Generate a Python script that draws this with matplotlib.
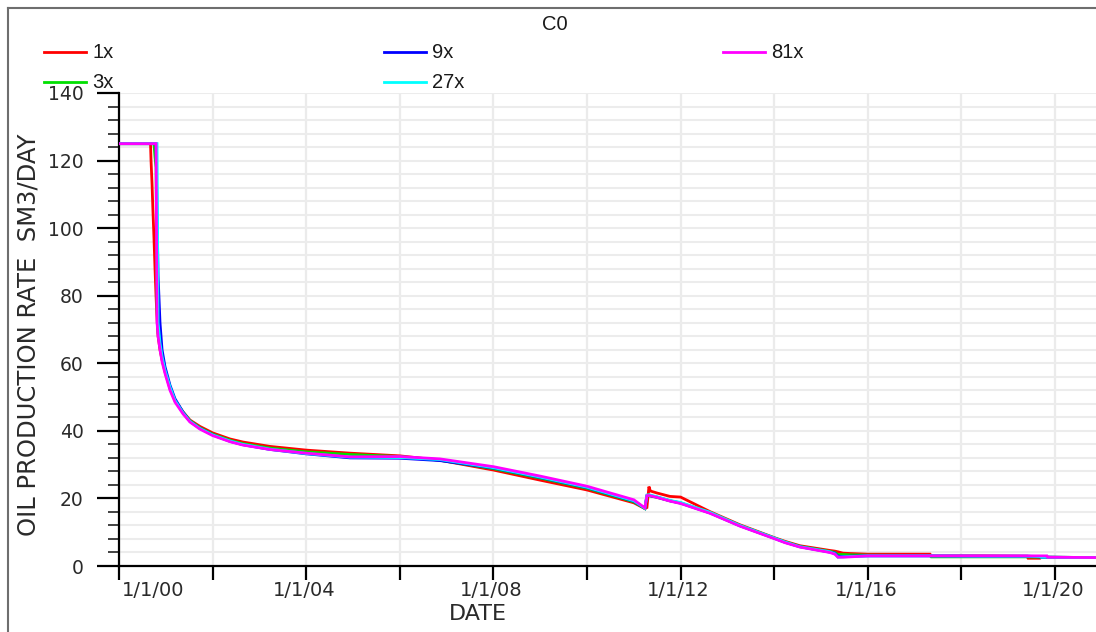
import datetime as dt

import matplotlib
matplotlib.use("Agg")
import matplotlib.pyplot as plt
import matplotlib.dates as mdates
from matplotlib.lines import Line2D
from matplotlib.ticker import MultipleLocator

# ---- data -----------------------------------------------------------------
dates = [
    "2000-01-01", "2000-09-03", "2000-09-07", "2000-09-15", "2000-09-22",
    "2000-09-30", "2000-10-08", "2000-10-16", "2000-10-24", "2000-11-01",
    "2000-11-16", "2000-12-02", "2000-12-25", "2001-02-02", "2001-03-13",
    "2001-05-15", "2001-07-08", "2001-09-24", "2002-01-01", "2002-05-16",
    "2002-08-25", "2003-03-23", "2004-01-01", "2004-12-08", "2006-01-01",
    "2006-11-10", "2008-01-01", "2009-01-01", "2010-01-01", "2011-01-01",
    "2011-03-28", "2011-04-13", "2011-04-29", "2011-05-10", "2011-07-01",
    "2011-10-10", "2012-01-01", "2012-08-17", "2013-04-08", "2014-01-01",
    "2014-03-26", "2014-07-20", "2015-03-11", "2015-04-19", "2015-05-13",
    "2015-06-21", "2015-08-14", "2016-01-01", "2017-05-01", "2017-05-10",
    "2018-06-17", "2019-05-27", "2019-06-05", "2019-09-06", "2019-09-15",
    "2019-10-30", "2019-11-05", "2020-11-16",
]

rate_1x = [
    125, 125, 120, 113, 105, 97, 88, 80, 73, 68,
    64, 61, 57.5, 52.5, 49, 45.6, 43.2, 41.3, 39.4, 37.6,
    36.7, 35.4, 34.3, 33.4, 32.6, 31.3, 28.4, 25.4, 22.5, 18.7,
    17.0, 17.3, 23.5, 22.2, 21.6, 20.6, 20.4, 16.1, 12.2, 8.4,
    7.3, 6.0, 4.6, 4.4, 4.2, 3.8, 3.7, 3.5, 3.5, 3.0,
    3.0, 2.9, 2.3, 2.3, 2.6, 2.6, 2.6, 2.5,
]
rate_3x = [
    125, 125, 125, 125, 125, 125, 121, 118, 76, 69,
    65, 61.5, 58, 53, 49, 45.5, 43.0, 40.9, 39.0, 37.2,
    36.2, 34.9, 33.8, 33.0, 32.4, 31.3, 28.8, 26.0, 23.0, 19.0,
    17.0, 20.6, 20.8, 20.7, 20.3, 19.3, 18.7, 15.8, 12.0, 8.3,
    7.1, 5.8, 4.3, 4.0, 3.4, 3.4, 3.3, 3.2, 3.1, 2.7,
    2.7, 2.7, 2.7, 2.6, 2.6, 2.6, 2.6, 2.5,
]
rate_9x = [
    125, 125, 125, 125, 125, 125, 125, 125, 104, 86,
    72, 64, 59, 53.5, 49.5, 45.5, 42.8, 40.7, 38.8, 36.9,
    35.9, 34.5, 33.2, 32.0, 31.9, 31.2, 29.0, 26.2, 23.2, 19.2,
    17.1, 20.8, 20.9, 20.8, 20.4, 19.3, 18.6, 15.7, 11.9, 8.2,
    7.0, 5.7, 4.1, 3.8, 2.9, 2.8, 2.9, 3.0, 3.0, 3.0,
    2.9, 2.9, 2.9, 2.7, 2.6, 2.6, 2.6, 2.5,
]
rate_27x = [
    125, 125, 125, 125, 125, 125, 125, 125, 125, 72,
    66, 62, 58, 53, 49, 45.3, 42.8, 40.7, 38.8, 37.0,
    36.0, 34.6, 33.3, 32.2, 32.1, 31.5, 29.1, 26.3, 23.3, 19.3,
    17.1, 21.0, 21.1, 21.0, 20.5, 19.4, 18.8, 15.9, 12.0, 8.3,
    7.1, 5.7, 4.2, 3.6, 2.6, 2.7, 2.8, 3.0, 3.0, 3.0,
    2.9, 2.9, 2.9, 2.8, 2.6, 2.6, 2.6, 2.5,
]
rate_81x = [
    125, 125, 125, 125, 125, 125, 125, 125, 72, 68,
    64, 60.5, 57, 52, 48.5, 45, 42.6, 40.5, 38.6, 36.8,
    35.8, 34.5, 33.4, 32.3, 32.4, 31.7, 29.4, 26.6, 23.6, 19.6,
    17.2, 20.8, 20.9, 20.8, 20.3, 19.2, 18.5, 15.6, 11.8, 8.1,
    6.9, 5.6, 4.0, 3.5, 2.6, 2.6, 2.7, 3.0, 3.0, 3.0,
    3.0, 3.0, 3.0, 3.0, 3.0, 3.0, 2.6, 2.5,
]

series_labels = ["1x", "3x", "9x", "27x", "81x"]
series_values = [rate_1x, rate_3x, rate_9x, rate_27x, rate_81x]
series_colors = ["#ff0000", "#00e000", "#0000ff", "#00ffff", "#ff00ff"]

x_start = dt.datetime(2000, 1, 1)
x_end = dt.datetime(2020, 11, 16)

# ---- figure ---------------------------------------------------------------
W, H = 1096, 632
fig = plt.figure(figsize=(W / 100, H / 100), dpi=100)
fig.patch.set_facecolor("white")

ax_l, ax_r, ax_t, ax_b = 119, 1096, 93, 566
ax = fig.add_axes([ax_l / W, (H - ax_b) / H, (ax_r - ax_l) / W, (ax_b - ax_t) / H])

t = [dt.datetime.strptime(d, "%Y-%m-%d") for d in dates]
for lab, vals, col in zip(series_labels, series_values, series_colors):
    ax.plot(t, vals, color=col, lw=2.0, solid_joinstyle="miter", zorder=3)

ax.set_xlim(x_start, x_end)
ax.set_ylim(0, 140)

# y axis: major every 20, minor every 4
ax.yaxis.set_major_locator(MultipleLocator(20))
ax.yaxis.set_minor_locator(MultipleLocator(4))
ax.tick_params(axis="y", which="major", direction="out", length=15.8, width=1.6,
               pad=9.5, labelsize=13.5, labelcolor="#2a2a2a", color="black")
ax.tick_params(axis="y", which="minor", direction="out", length=7.9, width=1.2,
               color="#222222")

# x axis: ticks every two years, labels every four
ax.xaxis.set_major_locator(mdates.YearLocator(2))
ax.xaxis.set_minor_locator(mdates.YearLocator(100))
ax.tick_params(axis="x", which="major", direction="out", length=10, width=1.6,
               labelbottom=False, color="black")

for yr in range(2000, 2021, 4):
    d = dt.datetime(yr, 1, 1)
    first = yr == 2000
    ax.annotate(f"1/1/{yr % 100:02d}", xy=(d, 0), xycoords=("data", "axes fraction"),
                xytext=(3 if first else -2, -15), textcoords="offset pixels",
                ha="left" if first else "center", va="top",
                fontsize=14, color="#2a2a2a", annotation_clip=False)

# grid
ax.grid(True, axis="x", which="major", color="#ebebeb", lw=1.6, zorder=0)
ax.grid(True, axis="y", which="both", color="#ececec", lw=1.5, zorder=0)
ax.set_axisbelow(True)

for side in ("top", "right"):
    ax.spines[side].set_visible(False)
for side in ("left", "bottom"):
    ax.spines[side].set_linewidth(1.6)
    ax.spines[side].set_color("black")

# axis titles
fig.text(478 / W, 1 - 614 / H, "DATE", ha="center", va="center",
         fontsize=16, color="#2a2a2a")
fig.text(29 / W, 1 - 335 / H, "OIL PRODUCTION RATE  SM3/DAY", ha="center",
         va="center", rotation=90, fontsize=17.5, color="#2a2a2a")

# title and legend
narrow = ["Liberation Sans Narrow", "Liberation Sans", "DejaVu Sans"]
fig.text(555 / W, 1 - 24 / H, "C0", ha="center", va="center",
         family=narrow, fontsize=14.5, color="#1a1a1a")

col_x = [44, 384, 723]
row_y = [52, 82]
for i, (lab, col) in enumerate(zip(series_labels, series_colors)):
    cx = col_x[i // 2]
    cy = row_y[i % 2]
    fig.add_artist(Line2D([cx / W, (cx + 42) / W], [1 - cy / H, 1 - cy / H],
                          color=col, lw=2.0, transform=fig.transFigure))
    fig.text((cx + 48) / W, 1 - (cy + 1) / H, lab, ha="left", va="center",
             family=narrow, fontsize=14.5, color="#1a1a1a")

# outer frame
frame_col = "#6e6e6e"
fig.add_artist(Line2D([7.5 / W, 1.0], [1 - 7.5 / H, 1 - 7.5 / H],
                      color=frame_col, lw=1.5, transform=fig.transFigure))
fig.add_artist(Line2D([7.5 / W, 7.5 / W], [0.0, 1 - 7.5 / H],
                      color=frame_col, lw=1.5, transform=fig.transFigure))

fig.savefig("out.png", dpi=100)
